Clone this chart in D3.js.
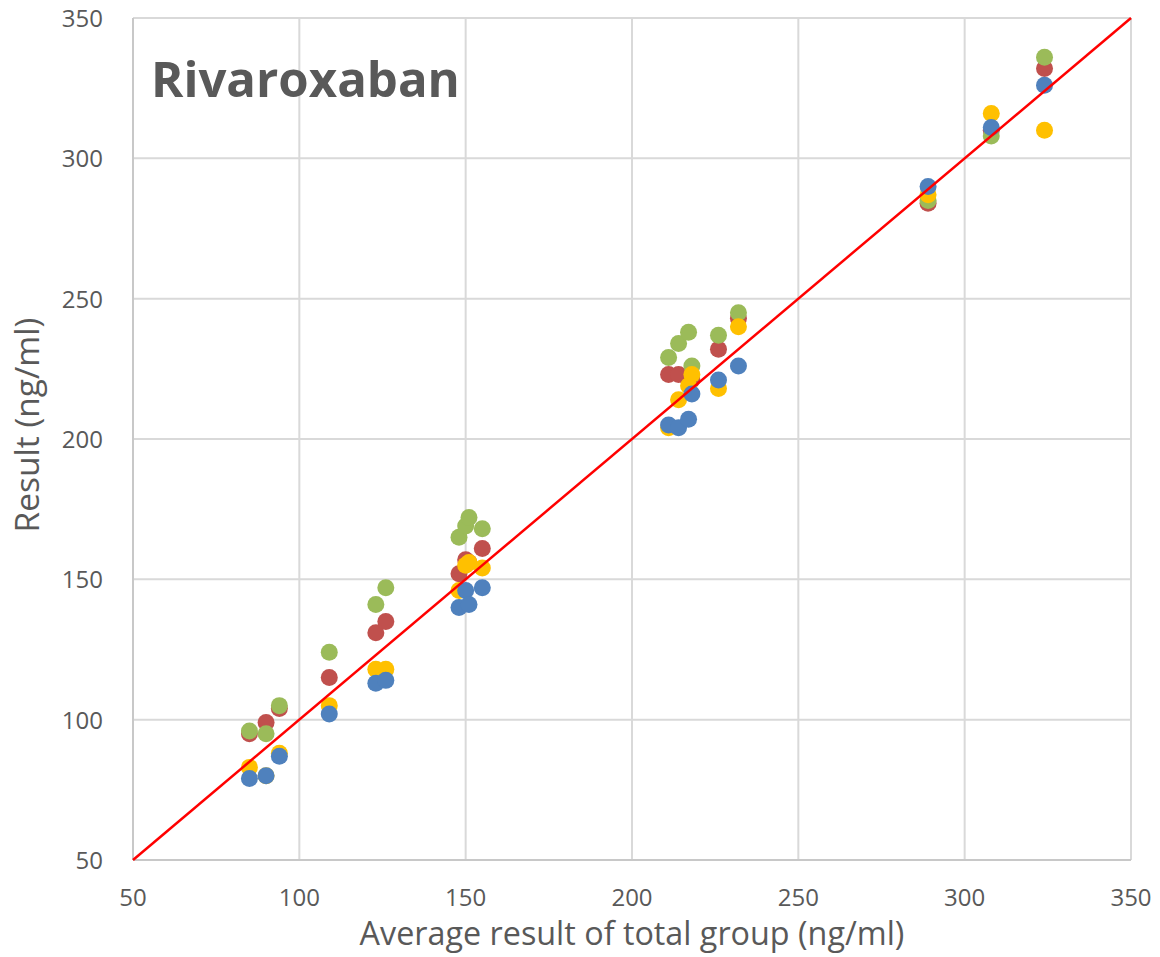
<!DOCTYPE html>
<html lang="en">
<head>
<meta charset="utf-8">
<title>Rivaroxaban</title>
<script src="https://d3js.org/d3.v7.min.js"></script>
<style>
  body { margin: 0; background: #ffffff; }
  svg text { font-family: "Open Sans", "Noto Sans", sans-serif; fill: #595959; }
</style>
</head>
<body>
<script>
// average result of total group (x) for each sample
const groupAvg = [85, 90, 94, 109, 123, 126, 148, 150, 151, 155, 211, 214, 217, 218, 226, 232, 289, 308, 324];
// results of the four methods / labs
const seriesRed    = [95, 99, 104, 115, 131, 135, 152, 157, 156, 161, 223, 223, 221, 221, 232, 243, 284, 310, 332];
const seriesGreen  = [96, 95, 105, 124, 141, 147, 165, 169, 172, 168, 229, 234, 238, 226, 237, 245, 285, 308, 336];
const seriesYellow = [83, 80, 88, 105, 118, 118, 146, 155, 156, 154, 204, 214, 219, 223, 218, 240, 287, 316, 310];
const seriesBlue   = [79, 80, 87, 102, 113, 114, 140, 146, 141, 147, 205, 204, 207, 216, 221, 226, 290, 311, 326];
const ticks = [50, 100, 150, 200, 250, 300, 350];

const width = 1160, height = 957;
const plotLeft = 133, plotRight = 1131, plotTop = 18, plotBottom = 860;

const svg = d3.select("body").append("svg")
  .attr("width", width)
  .attr("height", height);

const x = d3.scaleLinear().domain([50, 350]).range([plotLeft, plotRight]);
const y = d3.scaleLinear().domain([50, 350]).range([plotBottom, plotTop]);

// grid
svg.append("g").selectAll("line").data(ticks).join("line")
  .attr("x1", d => x(d)).attr("x2", d => x(d))
  .attr("y1", plotTop).attr("y2", plotBottom)
  .attr("stroke", "#d9d9d9").attr("stroke-width", 2);
svg.append("g").selectAll("line").data(ticks).join("line")
  .attr("x1", plotLeft).attr("x2", plotRight)
  .attr("y1", d => y(d)).attr("y2", d => y(d))
  .attr("stroke", "#d9d9d9").attr("stroke-width", 2);
// axis lines
svg.append("line").attr("x1", plotLeft).attr("x2", plotRight).attr("y1", plotBottom).attr("y2", plotBottom)
  .attr("stroke", "#c8c8c8").attr("stroke-width", 2);
svg.append("line").attr("x1", plotLeft).attr("x2", plotLeft).attr("y1", plotTop).attr("y2", plotBottom)
  .attr("stroke", "#c8c8c8").attr("stroke-width", 2);

// tick labels
svg.append("g").selectAll("text").data(ticks).join("text")
  .attr("x", d => x(d)).attr("y", 906)
  .attr("text-anchor", "middle")
  .style("font-size", "24px")
  .text(d => d);
svg.append("g").selectAll("text").data(ticks).join("text")
  .attr("x", 103).attr("y", d => y(d) + 9)
  .attr("text-anchor", "end")
  .style("font-size", "24px")
  .text(d => d);

// helper: shrink/grow font so the text covers a given width
function fitWidth(sel, target) {
  const fs = parseFloat(sel.style("font-size"));
  const w = sel.node().getComputedTextLength();
  sel.style("font-size", (fs * target / w) + "px");
}

const xTitle = svg.append("text")
  .attr("x", 632).attr("y", 945)
  .attr("text-anchor", "middle")
  .style("font-size", "26px")
  .text("Average result of total group (ng/ml)");
fitWidth(xTitle, 545);

const yTitle = svg.append("text")
  .attr("transform", "translate(39,425) rotate(-90)")
  .attr("text-anchor", "middle")
  .style("font-size", "26px")
  .text("Result (ng/ml)");
fitWidth(yTitle, 215);

const title = svg.append("text")
  .attr("x", 151).attr("y", 97)
  .style("font-size", "52px")
  .style("font-weight", "bold")
  .text("Rivaroxaban");
fitWidth(title, 309);

// points
const series = [
  {vals: seriesRed, color: "#c0504d"},
  {vals: seriesGreen, color: "#9bbb59"},
  {vals: seriesYellow, color: "#ffc000"},
  {vals: seriesBlue, color: "#4f81bd"}
];
series.forEach(s => {
  svg.append("g").selectAll("circle").data(groupAvg).join("circle")
    .attr("cx", d => x(d))
    .attr("cy", (d, i) => y(s.vals[i]))
    .attr("r", 8.5)
    .attr("fill", s.color);
});

// line of identity
svg.append("line")
  .attr("x1", x(50)).attr("y1", y(50))
  .attr("x2", x(350)).attr("y2", y(350))
  .attr("stroke", "#ff0000").attr("stroke-width", 2.5);
</script>
</body>
</html>
